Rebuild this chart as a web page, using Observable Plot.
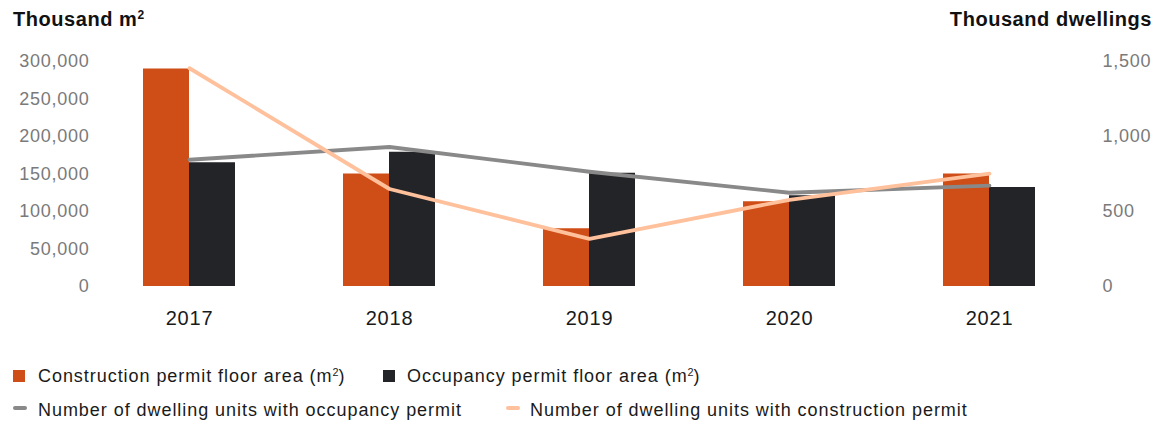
<!DOCTYPE html>
<html>
<head>
<meta charset="utf-8">
<script src="https://cdn.jsdelivr.net/npm/d3@7"></script>
<script src="https://cdn.jsdelivr.net/npm/@observablehq/plot@0.6"></script>
<style>
  html, body { margin: 0; padding: 0; background: #fff; }
  body { width: 1165px; height: 421px; position: relative; font-family: "Liberation Sans", Arial, sans-serif; overflow: hidden; }
  .title { position: absolute; top: 8px; font-weight: bold; font-size: 20px; color: #111; line-height: normal; letter-spacing: 0.55px; }
  .leg { position: absolute; font-size: 18px; color: #1a1a1a; line-height: normal; white-space: nowrap; letter-spacing: 0.95px; }
  .sw { position: absolute; }
  #chart { position: absolute; left: 0; top: 0; }
  #chart g[aria-label="y-axis tick label"] text { letter-spacing: 0.75px; }
  #chart g[aria-label="x-axis tick label"] text { letter-spacing: 0.8px; }
  sup { font-size: 0.6em; vertical-align: 0; position: relative; top: -0.55em; letter-spacing: 0; }
</style>
</head>
<body>
<div id="chart"></div>
<div class="title" style="left:13px">Thousand m<sup>2</sup></div>
<div class="title" style="right:13px">Thousand dwellings</div>
<div id="legend"></div>
<script>
// ---- data ----
const years = ["2017", "2018", "2019", "2020", "2021"];
const constructionArea = [290000, 150000, 77000, 113000, 150000];
const occupancyArea = [165000, 179000, 151000, 121000, 132000];
const occupancyDwellings = [845, 930, 765, 625, 672];
const constructionDwellings = [1455, 650, 318, 578, 752];
const leftTicks = [0, 50000, 100000, 150000, 200000, 250000, 300000];
const rightTicks = [0, 500, 1000, 1500];
const seriesNames = [
  "Construction permit floor area (m²)",
  "Occupancy permit floor area (m²)",
  "Number of dwelling units with occupancy permit",
  "Number of dwelling units with construction permit"
];

const colors = {
  construction: "#cf4d16",
  occupancy: "#232427",
  occLine: "#898989",
  conLine: "#ffc09c"
};
const ratio = 300000 / 1500; // right axis -> left axis

const consBars = years.map((y, i) => ({year: y, value: constructionArea[i]}));
const occBars = years.map((y, i) => ({year: y, value: occupancyArea[i]}));
const occLine = years.map((y, i) => ({year: y, value: occupancyDwellings[i]}));
const conLine = years.map((y, i) => ({year: y, value: constructionDwellings[i]}));
const fmt = d3.format(",");

const chart = Plot.plot({
  width: 1165,
  height: 340,
  marginTop: 61,
  marginBottom: 54,
  marginLeft: 105,
  marginRight: 92,
  style: {fontFamily: "Liberation Sans, Arial, sans-serif", fontSize: "18px", background: "transparent"},
  x: {type: "band", domain: years, paddingInner: 0.77, paddingOuter: 0.3, label: null},
  y: {domain: [0, 300000], label: null},
  marks: [
    Plot.barY(consBars, {x: "year", y: "value", fill: colors.construction, dx: -23}),
    Plot.barY(occBars, {x: "year", y: "value", fill: colors.occupancy, dx: 23}),
    Plot.lineY(occLine, {x: "year", y: d => d.value * ratio, stroke: colors.occLine, strokeWidth: 3.8}),
    Plot.lineY(conLine, {x: "year", y: d => d.value * ratio, stroke: colors.conLine, strokeWidth: 3.8}),
    Plot.axisY({ticks: leftTicks, tickFormat: fmt, tickSize: 0, tickPadding: 16, fill: "#7a7a7a", fontSize: 18, label: null}),
    Plot.axisY({anchor: "right", ticks: rightTicks.map(v => v * ratio), tickFormat: d => fmt(d / ratio), tickSize: 0, tickPadding: 29, fill: "#7a7a7a", fontSize: 18, label: null}),
    Plot.axisX({tickSize: 0, tickPadding: 24, fill: "#1a1a1a", fontSize: 20, label: null})
  ]
});
document.getElementById("chart").appendChild(chart);

// ---- legend ----
const legend = document.getElementById("legend");
const items = [
  {name: seriesNames[0], color: colors.construction, type: "box", left: 13, text: 38, row: 0},
  {name: seriesNames[1], color: colors.occupancy, type: "box", left: 383, text: 407, row: 0},
  {name: seriesNames[2], color: colors.occLine, type: "line", left: 13, text: 38, row: 1},
  {name: seriesNames[3], color: colors.conLine, type: "line", left: 506, text: 530, row: 1}
];
const rowTop = [366, 400];
items.forEach(it => {
  const sw = document.createElement("div");
  sw.className = "sw";
  if (it.type === "box") {
    Object.assign(sw.style, {left: it.left + "px", top: "370px", width: "12px", height: "12px", background: it.color});
  } else {
    Object.assign(sw.style, {left: it.left + "px", top: "406px", width: "14px", height: "4px", borderRadius: "2px", background: it.color});
  }
  legend.appendChild(sw);
  const t = document.createElement("div");
  t.className = "leg";
  t.style.left = it.text + "px";
  t.style.top = rowTop[it.row] + "px";
  t.innerHTML = it.name.replace("m²", "m<sup>2</sup>");
  legend.appendChild(t);
});
</script>
</body>
</html>
